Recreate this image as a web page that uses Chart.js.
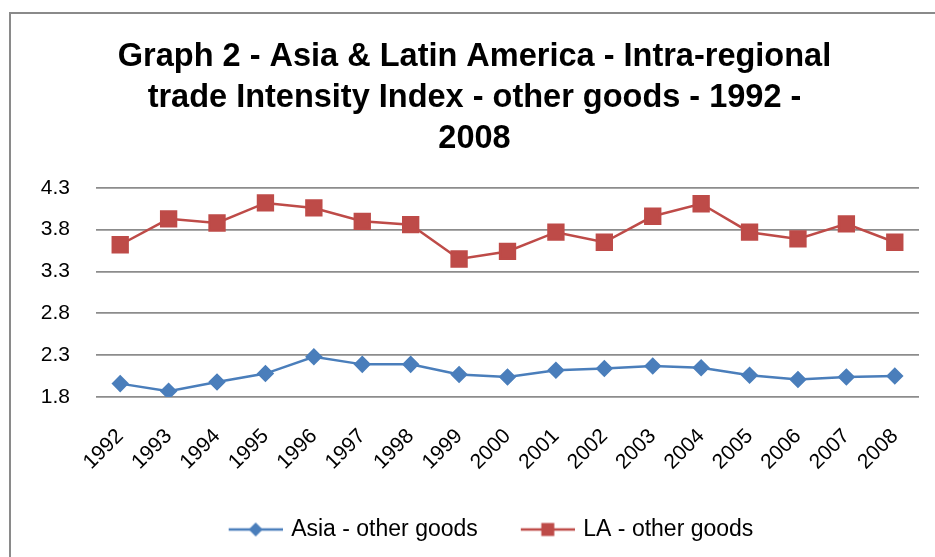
<!DOCTYPE html>
<html>
<head>
<meta charset="utf-8">
<script src="https://cdn.jsdelivr.net/npm/chart.js@4.4.1/dist/chart.umd.min.js"></script>
<style>
  html, body { margin: 0; padding: 0; background: #fff; overflow: hidden; }
  #wrap { position: relative; width: 935px; height: 557px; }
  #frame { position: absolute; left: 9px; top: 12px; width: 940px; height: 560px;
           border: 2px solid #8a8a8a; box-sizing: border-box; pointer-events: none; }
  canvas { position: absolute; left: 0; top: 0; }
</style>
</head>
<body>
<div id="wrap">
  <canvas id="tradeChart" width="935" height="557"></canvas>
  <div id="frame"></div>
</div>
<script>
const years = [
    "1992", "1993", "1994", "1995", "1996", "1997", "1998", "1999", "2000",
    "2001", "2002", "2003", "2004", "2005", "2006", "2007", "2008"
];
const asiaOtherGoods = [
    1.96, 1.87, 1.98, 2.08, 2.28, 2.19, 2.19, 2.07, 2.04,
    2.12, 2.14, 2.17, 2.15, 2.06, 2.01, 2.04, 2.05
];
const laOtherGoods = [
    3.62, 3.93, 3.88, 4.12, 4.06, 3.90, 3.86, 3.45, 3.54,
    3.77, 3.65, 3.96, 4.11, 3.77, 3.69, 3.87, 3.65
];
const titleLines = [
    "Graph 2 - Asia & Latin America - Intra-regional",
    "trade Intensity Index - other goods - 1992 -",
    "2008"
];

const FONT = "'Liberation Sans', Arial, sans-serif";
const ASIA_COLOR = "#4a7ebb";
const LA_COLOR = "#be4b48";
const SWATCH_GAP = 36;

// line-with-marker legend symbol, with blank space left of the line
// so the two legend entries sit further apart
function legendSwatch(color, marker) {
    const c = document.createElement("canvas");
    c.width = 54 + SWATCH_GAP;
    c.height = 16;
    const g = c.getContext("2d");
    g.translate(SWATCH_GAP, 0);
    g.strokeStyle = color;
    g.lineWidth = 2.5;
    g.beginPath();
    g.moveTo(0, 8);
    g.lineTo(54, 8);
    g.stroke();
    g.fillStyle = color;
    g.beginPath();
    if (marker === "diamond") {
        g.moveTo(27, 1); g.lineTo(34, 8); g.lineTo(27, 15); g.lineTo(20, 8);
    } else {
        g.rect(20.5, 1.5, 13, 13);
    }
    g.closePath();
    g.fill();
    return c;
}

const swatches = [legendSwatch(ASIA_COLOR, "diamond"), legendSwatch(LA_COLOR, "square")];

new Chart(document.getElementById("tradeChart"), {
    type: "line",
    data: {
        labels: years,
        datasets: [{
            label: "Asia - other goods",
            data: asiaOtherGoods,
            borderColor: ASIA_COLOR,
            backgroundColor: ASIA_COLOR,
            borderWidth: 2.5,
            pointStyle: "rectRot",
            pointRadius: 7,
            pointHoverRadius: 7,
            tension: 0
        }, {
            label: "LA - other goods",
            data: laOtherGoods,
            borderColor: LA_COLOR,
            backgroundColor: LA_COLOR,
            borderWidth: 2.5,
            pointStyle: "rect",
            pointRadius: 10.5,
            pointHoverRadius: 10.5,
            tension: 0
        }]
    },
    options: {
        responsive: false,
        animation: false,
        layout: { padding: { left: 30, right: 16, top: 0, bottom: 6 } },
        plugins: {
            title: {
                display: true,
                text: titleLines,
                color: "#000",
                font: { family: FONT, size: 32.5, weight: "bold", lineHeight: 1.26 },
                padding: { top: 37, bottom: 28 }
            },
            legend: {
                position: "bottom",
                labels: {
                    color: "#000",
                    font: { family: FONT, size: 23 },
                    usePointStyle: true,
                    // box is a bit narrower than the swatch, pulling the text closer to the line
                    pointStyleWidth: 54 + SWATCH_GAP - 6,
                    padding: 10,
                    generateLabels(chart) {
                        return chart.data.datasets.map((ds, i) => ({
                            text: ds.label,
                            pointStyle: swatches[i],
                            fillStyle: ds.borderColor,
                            strokeStyle: ds.borderColor,
                            lineWidth: 0,
                            datasetIndex: i,
                            hidden: false
                        }));
                    }
                }
            },
            tooltip: { enabled: false }
        },
        scales: {
            x: {
                offset: true,
                grid: { display: false },
                border: { display: false },
                ticks: {
                    color: "#000",
                    font: { family: FONT, size: 21 },
                    minRotation: 45,
                    maxRotation: 45,
                    padding: 19
                },
                afterFit(scale) { scale.height = 111; }
            },
            y: {
                min: 1.8,
                max: 4.3,
                grid: { color: "#8c8c8c", lineWidth: 1.8, drawTicks: false },
                border: { display: false },
                ticks: {
                    stepSize: 0.5,
                    color: "#000",
                    font: { family: FONT, size: 21 },
                    padding: 26,
                    callback: v => v.toFixed(1)
                },
                afterFit(scale) { scale.width = 66; }
            }
        }
    }
});
</script>
</body>
</html>
